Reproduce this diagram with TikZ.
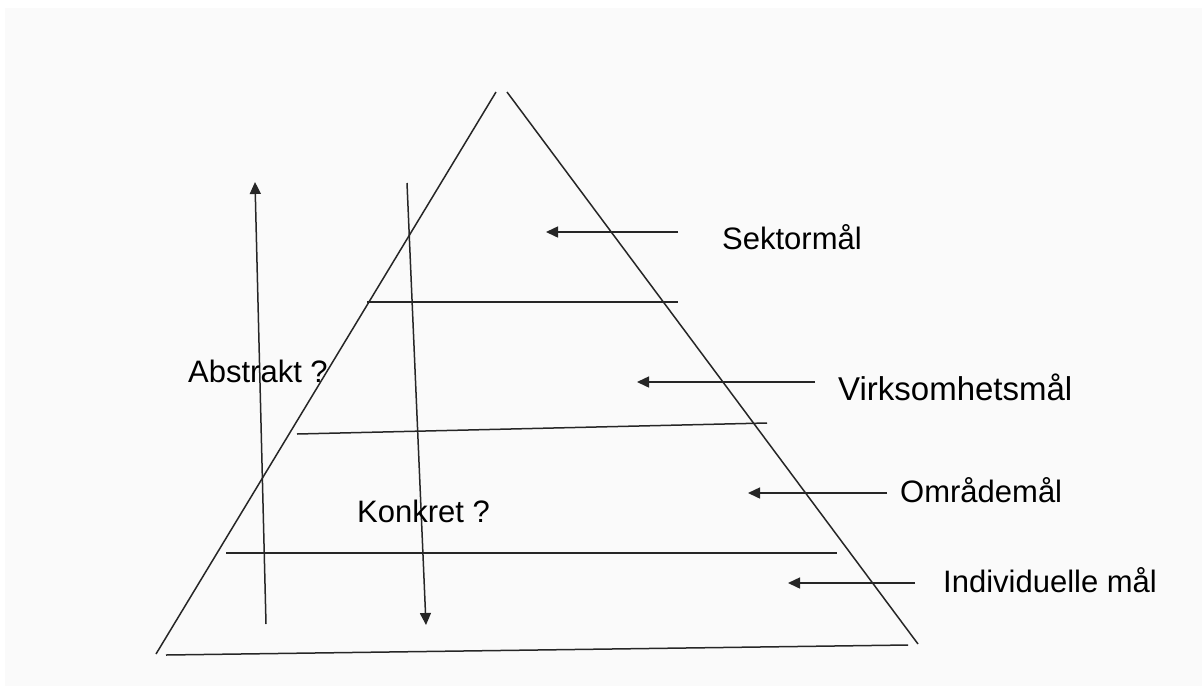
\documentclass[tikz,border=0pt]{standalone}
\usepackage{fontspec}
\setmainfont{Liberation Sans}
\usetikzlibrary{arrows.meta}
\begin{document}
\begin{tikzpicture}[x=1pt,y=-1pt,
  edge/.style={line width=1.5pt,black!85},
  arr/.style={line width=1.5pt,black!85,-{Triangle[length=12pt,width=11pt]}},
  lbl/.style={anchor=base west,inner sep=0pt,font=\fontsize{31}{37}\selectfont}]
\useasboundingbox (0,0) rectangle (1202,686);
\fill[white] (0,0) rectangle (1202,686);
\fill[black!2] (5,8) rectangle (1202,686);
% triangle sides
\coordinate (al) at (496,92);
\coordinate (bl) at (156,654);
\coordinate (ar) at (507,92);
\coordinate (br) at (918,644);
\draw[edge] (al) -- (bl);
\draw[edge] (ar) -- (br);
% base
\coordinate (b1) at (166,655);
\coordinate (b2) at (908,645);
\draw[edge] (b1) -- (b2);
% horizontal dividers
\coordinate (h1a) at (367,302); \coordinate (h1b) at (678,302);
\coordinate (h2a) at (297,434); \coordinate (h2b) at (767,423);
\coordinate (h3a) at (226,553); \coordinate (h3b) at (837,553);
\draw[edge] (h1a) -- (h1b);
\draw[edge] (h2a) -- (h2b);
\draw[edge] (h3a) -- (h3b);
% vertical arrows
\coordinate (u1) at (266,624); \coordinate (u2) at (255,182);
\coordinate (d1) at (407,183); \coordinate (d2) at (426,625);
\draw[arr] (u1) -- (u2);
\draw[arr] (d1) -- (d2);
% labels
\node[lbl] (sek) at (722,249) {Sektormål};
\node[lbl,font=\fontsize{33}{39}\selectfont] (vir) at (838,400) {Virksomhetsmål};
\node[lbl] (omr) at (900,502) {Områdemål};
\node[lbl] (ind) at (943,592) {Individuelle mål};
\node[lbl] (abs) at (188,382) {Abstrakt ?};
\node[lbl] (kon) at (357,522) {Konkret ?};
% label arrows
\coordinate (s1) at (678,232); \coordinate (s2) at (546,232);
\coordinate (v1) at (815,382); \coordinate (v2) at (637,382);
\coordinate (o1) at (887,493); \coordinate (o2) at (748,493);
\coordinate (i1) at (915,583); \coordinate (i2) at (788,583);
\draw[arr] (s1) -- (s2);
\draw[arr] (v1) -- (v2);
\draw[arr] (o1) -- (o2);
\draw[arr] (i1) -- (i2);
\end{tikzpicture}
\end{document}
